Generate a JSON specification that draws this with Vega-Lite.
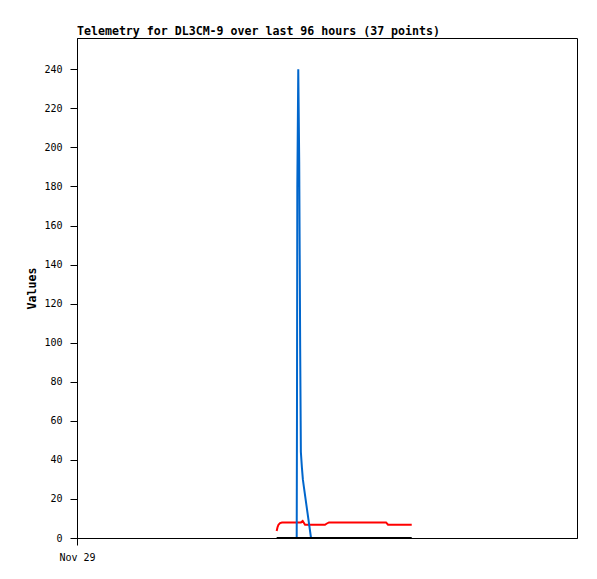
{
  "$schema": "https://vega.github.io/schema/vega-lite/v6.json",
  "width": 500,
  "height": 500,
  "autosize": {"type": "none"},
  "padding": {"left": 77, "top": 38, "right": 20, "bottom": 41},
  "background": "white",
  "config": {
    "view": {"stroke": "black", "strokeWidth": 1},
    "axis": {
      "grid": false,
      "domainColor": "black",
      "tickColor": "black",
      "labelColor": "black",
      "titleColor": "black",
      "labelFont": "DejaVu Sans Mono",
      "labelFontSize": 10,
      "titleFont": "DejaVu Sans Mono",
      "titleFontSize": 11.6,
      "titleFontWeight": "bold",
      "tickSize": 7
    }
  },
  "title": {
    "text": "Telemetry for DL3CM-9 over last 96 hours (37 points)",
    "anchor": "start",
    "frame": "group",
    "font": "DejaVu Sans Mono",
    "fontSize": 11.6,
    "fontWeight": "bold",
    "color": "black",
    "baseline": "bottom",
    "offset": -11
  },
  "datasets": {
    "red": [
      {"t": "2024-11-30T14:20", "v": 3.6},
      {"t": "2024-11-30T14:30", "v": 5.5},
      {"t": "2024-11-30T14:41", "v": 6.8},
      {"t": "2024-11-30T14:59", "v": 7.6},
      {"t": "2024-11-30T15:22", "v": 7.9},
      {"t": "2024-11-30T15:56", "v": 8.0},
      {"t": "2024-11-30T19:01", "v": 8.0},
      {"t": "2024-11-30T19:20", "v": 8.7},
      {"t": "2024-11-30T19:47", "v": 6.8},
      {"t": "2024-11-30T23:37", "v": 6.8},
      {"t": "2024-11-30T23:54", "v": 7.3},
      {"t": "2024-12-01T00:23", "v": 8.0},
      {"t": "2024-12-01T11:20", "v": 8.0},
      {"t": "2024-12-01T11:43", "v": 6.8},
      {"t": "2024-12-01T16:16", "v": 6.8}
    ],
    "blue": [
      {"t": "2024-11-30T18:11", "v": 0},
      {"t": "2024-11-30T18:14", "v": 60},
      {"t": "2024-11-30T18:18", "v": 180},
      {"t": "2024-11-30T18:29", "v": 240},
      {"t": "2024-11-30T18:40", "v": 192},
      {"t": "2024-11-30T18:51", "v": 97},
      {"t": "2024-11-30T18:59", "v": 44},
      {"t": "2024-11-30T19:11", "v": 36},
      {"t": "2024-11-30T19:22", "v": 30},
      {"t": "2024-11-30T19:34", "v": 26},
      {"t": "2024-11-30T20:56", "v": 0}
    ],
    "black": [
      {"t": "2024-11-30T14:20", "v": 0},
      {"t": "2024-11-30T19:01", "v": 0},
      {"t": "2024-12-01T00:23", "v": 0},
      {"t": "2024-12-01T16:16", "v": 0}
    ]
  },
  "encoding": {
    "x": {
      "field": "t",
      "type": "temporal",
      "scale": {"domain": [{"year": 2024, "month": 11, "date": 29}, {"year": 2024, "month": 12, "date": 3}]},
      "axis": {
        "title": null,
        "values": [{"year": 2024, "month": 11, "date": 29}],
        "format": "%b %d",
        "labelFlush": false,
        "labelPadding": 7,
        "domain": true
      }
    },
    "y": {
      "field": "v",
      "type": "quantitative",
      "scale": {"domain": [0, 256], "nice": false, "zero": true},
      "axis": {
        "title": "Values",
        "values": [0, 20, 40, 60, 80, 100, 120, 140, 160, 180, 200, 220, 240],
        "labelPadding": 8,
        "titlePadding": 6
      }
    }
  },
  "layer": [
    {"data": {"name": "red"}, "mark": {"type": "line", "color": "#ff0000", "strokeWidth": 2}},
    {"data": {"name": "blue"}, "mark": {"type": "line", "color": "#0066cc", "strokeWidth": 2}},
    {"data": {"name": "black"}, "mark": {"type": "line", "color": "#000000", "strokeWidth": 2}}
  ]
}
